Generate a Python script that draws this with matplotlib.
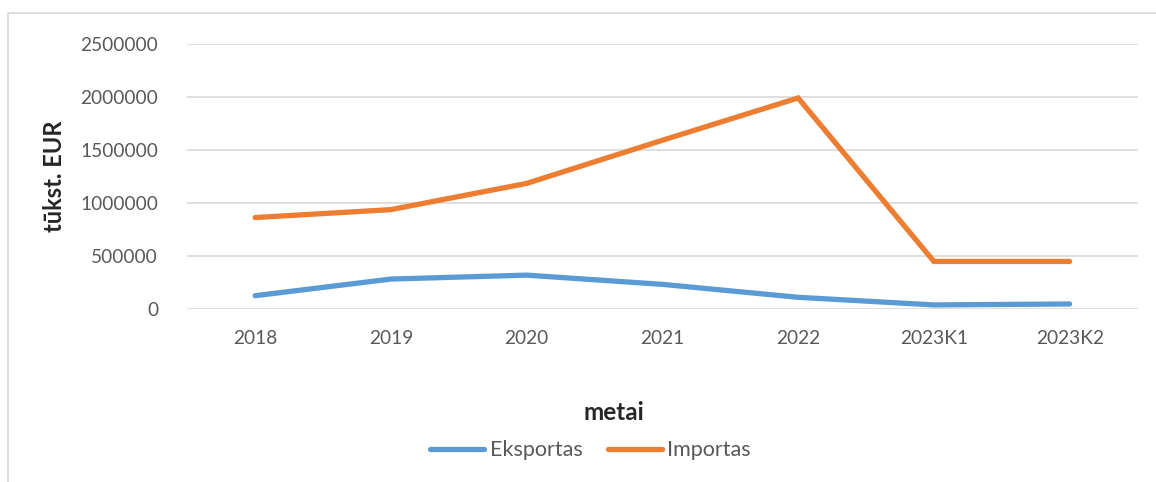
import matplotlib.pyplot as plt
from matplotlib.patches import Rectangle

# data
metai = ['2018', '2019', '2020', '2021', '2022', '2023K1', '2023K2']
eksportas = [125000, 282000, 319000, 232000, 110000, 38000, 47000]
importas = [862000, 937000, 1184000, 1591000, 1990000, 448000, 448000]

plt.rcParams['font.family'] = ['Lato', 'DejaVu Sans']

fig = plt.figure(figsize=(11.56, 4.82), dpi=100)
ax = fig.add_axes([0.162, 0.359, 0.822, 0.55])

x = range(len(metai))
ax.plot(x, eksportas, color='#5B9BD5', linewidth=3.8, solid_capstyle='round',
        solid_joinstyle='miter', label='Eksportas')
ax.plot(x, importas, color='#ED7D31', linewidth=3.8, solid_capstyle='round',
        solid_joinstyle='miter', label='Importas')

ax.set_xlim(-0.5, len(metai) - 0.5)
ax.set_ylim(0, 2500000)
ax.set_yticks([0, 500000, 1000000, 1500000, 2000000, 2500000])
ax.set_yticklabels(['0', '500000', '1000000', '1500000', '2000000', '2500000'])
ax.set_xticks(list(x))
ax.set_xticklabels(metai)
ax.tick_params(axis='both', length=0, labelsize=13.8, colors='#595959')
ax.tick_params(axis='y', pad=21)
ax.tick_params(axis='x', pad=15)
ax.grid(axis='y', color='#D9D9D9', linewidth=1.2)
ax.set_axisbelow(True)
for s in ax.spines.values():
    s.set_visible(False)

ax.set_ylabel('tūkst. EUR', fontsize=17, fontweight='bold', color='#262626')
ax.yaxis.set_label_coords(-0.128, 0.5)
fig.text(0.531, 0.145, 'metai', fontsize=17.5, fontweight='bold', color='#262626',
         ha='center', va='center')

leg = fig.legend(loc='center', bbox_to_anchor=(0.511, 0.066), ncol=2, frameon=False,
                 fontsize=15.5, handlelength=2.5, handletextpad=0.25, columnspacing=1.2)
for t in leg.get_texts():
    t.set_color('#595959')

# chart area border (left and top visible)
fig.patches.append(Rectangle((8 / 1156, -0.1), 1.2, 1.1 - 13 / 482, transform=fig.transFigure,
                             fill=False, edgecolor='#D9D9D9', linewidth=1.2))

fig.savefig('out.png', dpi=100)
